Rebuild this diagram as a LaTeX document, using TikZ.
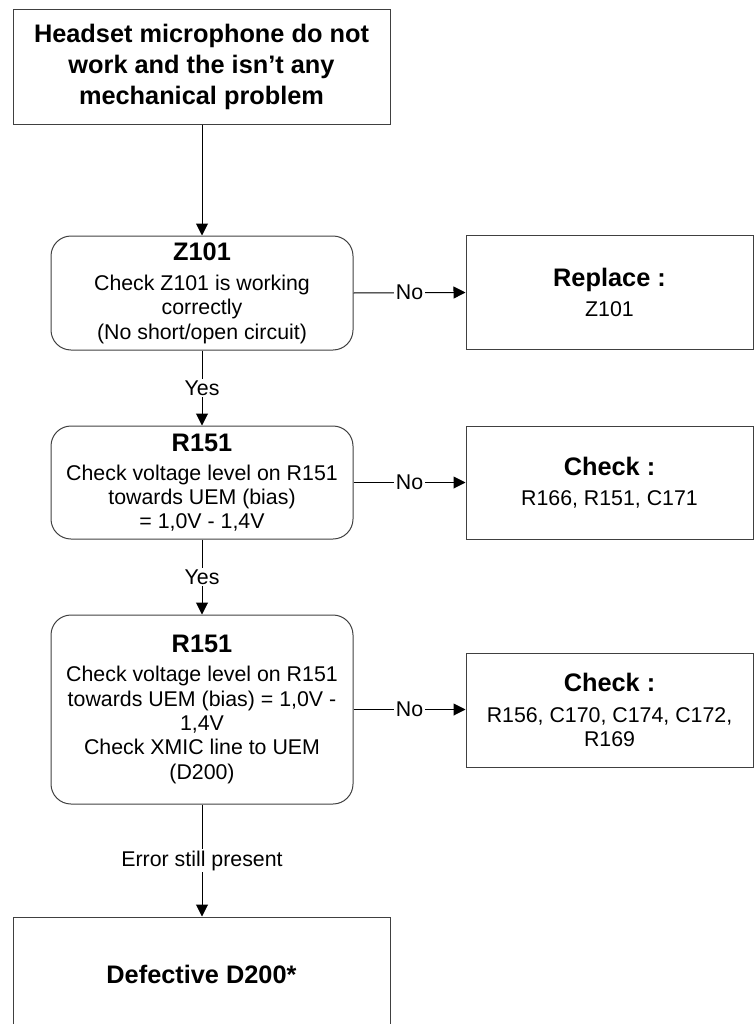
\documentclass[tikz,border=0pt]{standalone}
\usepackage{fontspec}
\setmainfont{Liberation Sans}
\usetikzlibrary{arrows.meta}

\newcommand{\bodyfont}{\fontsize{16pt}{18.25pt}\selectfont}
\newcommand{\headfont}{\fontsize{19pt}{23.25pt}\selectfont\bfseries}

\tikzset{every picture/.style={line width=0.75pt}}
\tikzset{
  plainbox/.style={draw={rgb, 255:red, 64; green, 64; blue, 64 }, align=center, inner sep=0pt, font=\bodyfont},
  roundbox/.style={plainbox, rounded corners=15pt, minimum width=226.5pt},
  sidebox/.style={plainbox, minimum width=215.25pt, minimum height=85.5pt},
  arr/.style={-{Triangle[length=9pt,width=9pt]}},
  lbl/.style={fill=white, inner sep=1.5pt, font=\bodyfont},
}

\begin{document}
\begin{tikzpicture}[x=0.75pt,y=0.75pt,yscale=-1,xscale=1]
\useasboundingbox (0,0) rectangle (754,1024);

%Shape: Rectangle [start]
\node [plainbox, minimum width=282.75pt, minimum height=85.5pt, font=\headfont] (start) at (201.5,67) {Headset microphone do not\\work and the isn't any\\mechanical problem};

%Shape: Rounded Rect [z101]
\node [roundbox, minimum height=85.5pt] (z101) at (202,293) {{\headfont Z101}\\[4.5pt]Check Z101 is working\\correctly\\(No short/open circuit)};
%Shape: Rectangle [replace]
\node [sidebox] (replace) at (609.5,292.5) {{\headfont Replace :}\\[4pt]Z101};

%Shape: Rounded Rect [r151a]
\node [roundbox, minimum height=84.75pt] (r151a) at (202,482.5) {{\headfont R151}\\[3.5pt]Check voltage level on R151\\towards UEM (bias)\\= 1,0V - 1,4V};
%Shape: Rectangle [checka]
\node [sidebox, minimum height=84.75pt] (checka) at (609.5,482.5) {{\headfont Check :}\\[4pt]R166, R151, C171};

%Shape: Rounded Rect [r151b]
\node [roundbox, minimum height=141.75pt] (r151b) at (202,709.5) {{\headfont R151}\\[3.5pt]Check voltage level on R151\\towards UEM (bias) = 1,0V -\\1,4V\\Check XMIC line to UEM\\(D200)};
%Shape: Rectangle [checkb]
\node [sidebox] (checkb) at (609.5,710) {{\headfont Check :}\\[5pt]R156, C170, C174, C172,\\R169};

%Shape: Rectangle [defect]
\node [plainbox, minimum width=282.75pt, minimum height=85.5pt, font=\headfont] (defect) at (201.5,974) {Defective D200*};

%Straight Lines
\draw [arr] (start.south -| z101.north) -- (z101.north);
\draw [arr] (z101.east) -- node [lbl] {No} (replace.west);
\draw [arr] (z101.south) -- node [lbl] {Yes} (r151a.north);
\draw [arr] (r151a.east) -- node [lbl] {No} (checka.west);
\draw [arr] (r151a.south) -- node [lbl] {Yes} (r151b.north);
\draw [arr] (r151b.east) -- node [lbl] {No} (r151b.east -| checkb.west);
\draw [arr] (r151b.south) -- node [lbl] {Error still present} (r151b.south |- defect.north);

\end{tikzpicture}
\end{document}
